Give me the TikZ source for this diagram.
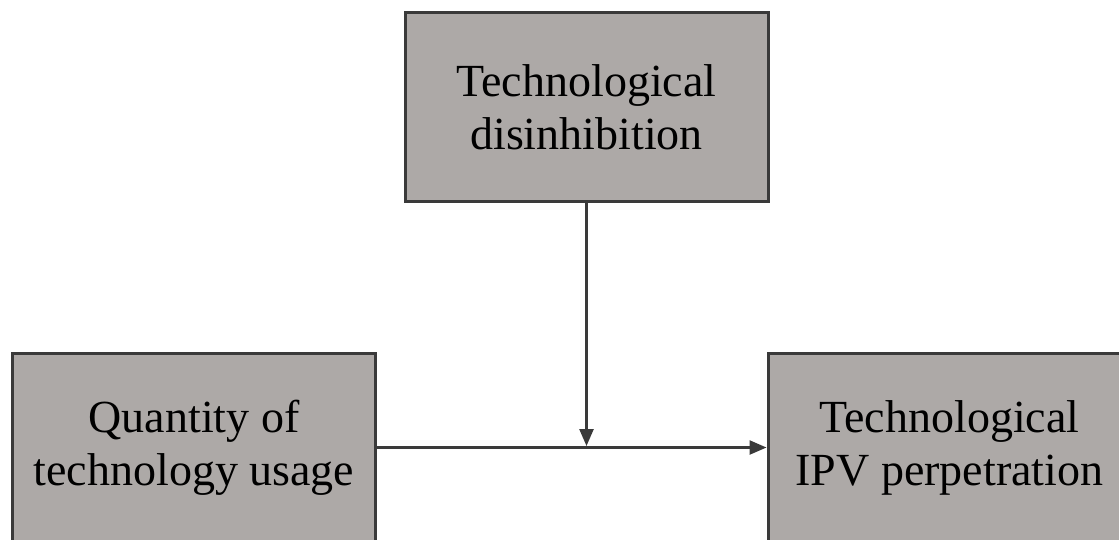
\documentclass[tikz,border=0pt]{standalone}
\usepackage{fontspec}
\setmainfont{Liberation Serif}
\usetikzlibrary{arrows.meta}
\definecolor{boxfill}{HTML}{ADA9A7}
\definecolor{boxline}{HTML}{3A3A3A}
\tikzset{
  varbox/.style={draw=boxline, fill=boxfill, line width=3pt,
    minimum width=363pt, minimum height=189pt, inner sep=0pt,
    align=center, font=\fontsize{46}{53}\selectfont},
  link/.style={draw=boxline, line width=2.5pt,
    -{Triangle[length=17pt,width=14pt]}}
}
\begin{document}
\begin{tikzpicture}[x=1pt,y=1pt]
  \useasboundingbox (0,0) rectangle (1119,-539);
  \clip (0,0) rectangle (1119,-539);
  \node[varbox] (tdis) at (586.5,-107) {Technological\\disinhibition};
  \node[varbox] (qty) at (194,-447.5) {Quantity of\\technology usage};
  \node[varbox] (ipv) at (949.5,-447.5) {Technological\\IPV perpetration};
  \coordinate (meet) at (tdis.south |- qty.east);
  \draw[link] (qty.east) -- (ipv.west);
  \draw[link, shorten >=1.5pt] (tdis.south) -- (meet);
\end{tikzpicture}
\end{document}
